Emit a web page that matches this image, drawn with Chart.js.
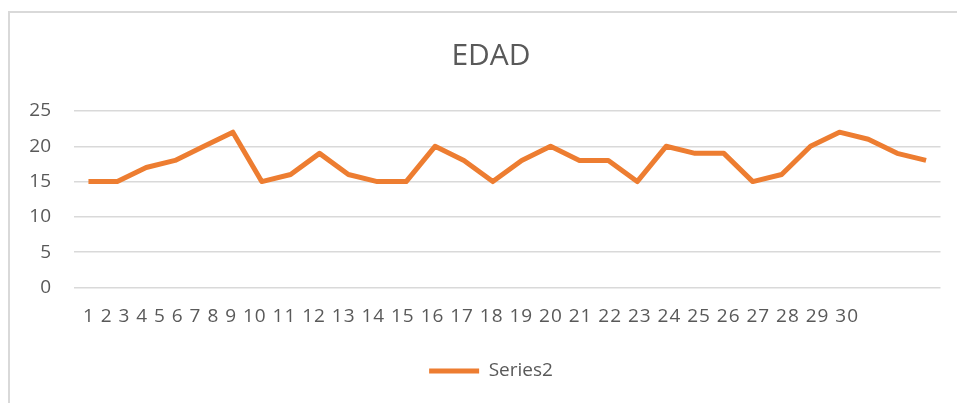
<!DOCTYPE html>
<html>
<head>
<meta charset="utf-8">
<script src="https://cdn.jsdelivr.net/npm/chart.js@4"></script>
<style>
  html, body { margin: 0; padding: 0; background: #ffffff; }
  canvas { display: block; }
</style>
</head>
<body>
<canvas id="chart" width="957" height="403"></canvas>
<script>
// Ages per respondent (1..30)
const categories = ['1','2','3','4','5','6','7','8','9','10','11','12','13','14','15',
  '16','17','18','19','20','21','22','23','24','25','26','27','28','29','30'];
const edadValues = [15,15,17,18,20,22,15,16,19,16,15,15,20,18,15,
  18,20,18,18,15,20,19,19,15,16,20,22,21,19,18];
const yTicks = [0, 5, 10, 15, 20, 25];
const chartTitle = 'EDAD';
const seriesName = 'Series2';

const TEXT = '#595959';
const GRID = '#d9d9d9';
const ORANGE = '#ED7D31';
const FONT = '"Open Sans", "Liberation Sans", sans-serif';

// White page with the light frame along the top and left edges
const framePlugin = {
  id: 'frame',
  beforeDraw(chart) {
    const ctx = chart.ctx;
    ctx.save();
    ctx.fillStyle = '#ffffff';
    ctx.fillRect(0, 0, chart.width, chart.height);
    ctx.fillStyle = GRID;
    ctx.fillRect(8, 11, chart.width - 8, 2);
    ctx.fillRect(8, 11, 2, chart.height - 11);
    ctx.restore();
  }
};

// Centre the title and legend over the frame rather than the whole canvas
const centreBlocksPlugin = {
  id: 'centreBlocks',
  afterLayout(chart) {
    const left = 41.5;
    [chart.titleBlock, chart.legend].forEach(box => {
      if (box) {
        box.left = left;
        box.width = box.right - left;
      }
    });
  }
};

// Category labels written as one continuous run under the plot
const categoryRunPlugin = {
  id: 'categoryRun',
  afterDraw(chart) {
    const area = chart.chartArea;
    const text = chart.data.labels.join(' ');
    const ctx = chart.ctx;
    ctx.save();
    ctx.font = '19px ' + FONT;
    ctx.fillStyle = TEXT;
    ctx.textAlign = 'left';
    ctx.textBaseline = 'middle';
    const startX = area.left + 9;
    const span = 775;
    const w = ctx.measureText(text).width;
    if ('letterSpacing' in ctx) {
      ctx.letterSpacing = ((span - w) / (text.length - 1)).toFixed(3) + 'px';
    }
    ctx.fillText(text, startX, area.bottom + 29);
    ctx.restore();
  }
};

new Chart(document.getElementById('chart'), {
  type: 'line',
  data: {
    labels: categories,
    datasets: [{
      label: seriesName,
      data: edadValues,
      borderColor: ORANGE,
      backgroundColor: ORANGE,
      borderWidth: 5,
      borderJoinStyle: 'round',
      borderCapStyle: 'butt',
      pointRadius: 0,
      pointHoverRadius: 0,
      tension: 0,
      fill: false
    }]
  },
  options: {
    responsive: false,
    maintainAspectRatio: false,
    animation: false,
    events: [],
    layout: { padding: { left: 27, right: 16.5, top: 0, bottom: 12.5 } },
    plugins: {
      title: {
        display: true,
        text: chartTitle,
        color: TEXT,
        font: { family: FONT, size: 30, weight: 'normal' },
        padding: { top: 38, bottom: 37 }
      },
      legend: {
        position: 'bottom',
        labels: {
          color: TEXT,
          font: { family: FONT, size: 19 },
          boxWidth: 50,
          boxHeight: 5,
          padding: 10,
          generateLabels(chart) {
            return Chart.defaults.plugins.legend.labels.generateLabels(chart)
              .map(item => Object.assign(item, { lineWidth: 0, fillStyle: ORANGE }));
          }
        }
      },
      tooltip: { enabled: false }
    },
    scales: {
      x: {
        type: 'category',
        offset: true,
        grid: { display: false, drawTicks: false },
        border: { display: false },
        ticks: { display: false },
        afterFit(scale) { scale.height = 64; }
      },
      y: {
        min: 0,
        max: 25,
        afterBuildTicks(scale) { scale.ticks = yTicks.map(v => ({ value: v })); },
        grid: { color: GRID, lineWidth: 1.5, drawTicks: false },
        border: { display: false },
        ticks: {
          color: TEXT,
          font: { family: FONT, size: 19 },
          padding: 23
        },
        afterFit(scale) { scale.width = 47; }
      }
    }
  },
  plugins: [framePlugin, centreBlocksPlugin, categoryRunPlugin]
});
</script>
</body>
</html>
